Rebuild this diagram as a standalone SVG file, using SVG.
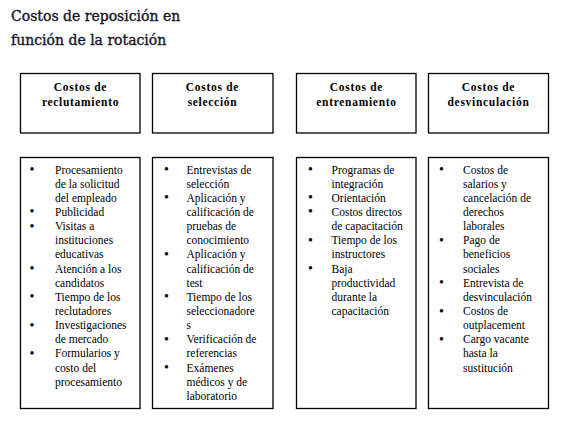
<svg xmlns="http://www.w3.org/2000/svg" width="568" height="425" viewBox="0 0 568 425">
<style>
.bg{fill:#ffffff}
.box{fill:#ffffff;stroke:#000000;stroke-width:1.3}
.title{font-family:"DejaVu Serif","Liberation Serif",serif;font-size:14px;fill:#14142a;stroke:#14142a;stroke-width:0.35}
.head{font-family:"Liberation Serif","Times New Roman",serif;font-size:11.5px;font-weight:bold;letter-spacing:0.7px;fill:#000;text-anchor:middle}
.item{font-family:"Liberation Serif","Times New Roman",serif;font-size:11.5px;fill:#000}
.bul{font-family:"Liberation Serif","Times New Roman",serif;font-size:14px;fill:#000;text-anchor:middle}
</style>
<rect class="bg" x="0" y="0" width="568" height="425"/>
<g id="title">
<text class="title" x="11" y="20.5">Costos de reposición en</text>
<text class="title" x="11" y="44.5">función de la rotación</text>
</g>

<g id="h1">
<rect class="box" x="20.5" y="73.5" width="119.5" height="59.5"/>
<text class="head" x="80.5" y="91">Costos de</text>
<text class="head" x="80.5" y="105.5">reclutamiento</text>
</g>
<g id="h2">
<rect class="box" x="152.5" y="73.5" width="120.5" height="59.5"/>
<text class="head" x="212.5" y="91">Costos de</text>
<text class="head" x="212.5" y="105.5">selección</text>
</g>
<g id="h3">
<rect class="box" x="296.5" y="73.5" width="119.5" height="59.5"/>
<text class="head" x="356.5" y="91">Costos de</text>
<text class="head" x="356.5" y="105.5">entrenamiento</text>
</g>
<g id="h4">
<rect class="box" x="428.5" y="73.5" width="120" height="59.5"/>
<text class="head" x="488.5" y="91">Costos de</text>
<text class="head" x="488.5" y="105.5">desvinculación</text>
</g>

<g id="l1">
<rect class="box" x="20.5" y="157.5" width="119.5" height="251"/>
<text class="bul" x="32" y="174">•</text>
<text class="bul" x="32" y="216.45">•</text>
<text class="bul" x="32" y="230.6">•</text>
<text class="bul" x="32" y="273.05">•</text>
<text class="bul" x="32" y="301.35">•</text>
<text class="bul" x="32" y="329.65">•</text>
<text class="bul" x="32" y="357.95">•</text>
<text class="item" x="55" y="173.5"><tspan x="55">Procesamiento</tspan><tspan x="55" dy="14.15">de la solicitud</tspan><tspan x="55" dy="14.15">del empleado</tspan><tspan x="55" dy="14.15">Publicidad</tspan><tspan x="55" dy="14.15">Visitas a</tspan><tspan x="55" dy="14.15">instituciones</tspan><tspan x="55" dy="14.15">educativas</tspan><tspan x="55" dy="14.15">Atención a los</tspan><tspan x="55" dy="14.15">candidatos</tspan><tspan x="55" dy="14.15">Tiempo de los</tspan><tspan x="55" dy="14.15">reclutadores</tspan><tspan x="55" dy="14.15">Investigaciones</tspan><tspan x="55" dy="14.15">de mercado</tspan><tspan x="55" dy="14.15">Formularios y</tspan><tspan x="55" dy="14.15">costo del</tspan><tspan x="55" dy="14.15">procesamiento</tspan></text>
</g>

<g id="l2">
<rect class="box" x="152.5" y="157.5" width="120.5" height="251"/>
<text class="bul" x="166.5" y="174">•</text>
<text class="bul" x="166.5" y="202.3">•</text>
<text class="bul" x="166.5" y="258.9">•</text>
<text class="bul" x="166.5" y="301.35">•</text>
<text class="bul" x="166.5" y="343.8">•</text>
<text class="bul" x="166.5" y="372.1">•</text>
<text class="item" x="186.5" y="173.5"><tspan x="186.5">Entrevistas de</tspan><tspan x="186.5" dy="14.15">selección</tspan><tspan x="186.5" dy="14.15">Aplicación y</tspan><tspan x="186.5" dy="14.15">calificación de</tspan><tspan x="186.5" dy="14.15">pruebas de</tspan><tspan x="186.5" dy="14.15">conocimiento</tspan><tspan x="186.5" dy="14.15">Aplicación y</tspan><tspan x="186.5" dy="14.15">calificación de</tspan><tspan x="186.5" dy="14.15">test</tspan><tspan x="186.5" dy="14.15">Tiempo de los</tspan><tspan x="186.5" dy="14.15">seleccionadore</tspan><tspan x="186.5" dy="14.15">s</tspan><tspan x="186.5" dy="14.15">Verificación de</tspan><tspan x="186.5" dy="14.15">referencias</tspan><tspan x="186.5" dy="14.15">Exámenes</tspan><tspan x="186.5" dy="14.15">médicos y de</tspan><tspan x="186.5" dy="14.15">laboratorio</tspan></text>
</g>

<g id="l3">
<rect class="box" x="296.5" y="157.5" width="119.5" height="251"/>
<text class="bul" x="310.5" y="174">•</text>
<text class="bul" x="310.5" y="202.3">•</text>
<text class="bul" x="310.5" y="216.45">•</text>
<text class="bul" x="310.5" y="244.75">•</text>
<text class="bul" x="310.5" y="273.05">•</text>
<text class="item" x="331.5" y="173.5"><tspan x="331.5">Programas de</tspan><tspan x="331.5" dy="14.15">integración</tspan><tspan x="331.5" dy="14.15">Orientación</tspan><tspan x="331.5" dy="14.15">Costos directos</tspan><tspan x="331.5" dy="14.15">de capacitación</tspan><tspan x="331.5" dy="14.15">Tiempo de los</tspan><tspan x="331.5" dy="14.15">instructores</tspan><tspan x="331.5" dy="14.15">Baja</tspan><tspan x="331.5" dy="14.15">productividad</tspan><tspan x="331.5" dy="14.15">durante la</tspan><tspan x="331.5" dy="14.15">capacitación</tspan></text>
</g>

<g id="l4">
<rect class="box" x="428.5" y="157.5" width="120" height="251"/>
<text class="bul" x="441.5" y="174">•</text>
<text class="bul" x="441.5" y="244.75">•</text>
<text class="bul" x="441.5" y="287.2">•</text>
<text class="bul" x="441.5" y="315.5">•</text>
<text class="bul" x="441.5" y="343.8">•</text>
<text class="item" x="463" y="173.5"><tspan x="463">Costos de</tspan><tspan x="463" dy="14.15">salarios y</tspan><tspan x="463" dy="14.15">cancelación de</tspan><tspan x="463" dy="14.15">derechos</tspan><tspan x="463" dy="14.15">laborales</tspan><tspan x="463" dy="14.15">Pago de</tspan><tspan x="463" dy="14.15">beneficios</tspan><tspan x="463" dy="14.15">sociales</tspan><tspan x="463" dy="14.15">Entrevista de</tspan><tspan x="463" dy="14.15">desvinculación</tspan><tspan x="463" dy="14.15">Costos de</tspan><tspan x="463" dy="14.15">outplacement</tspan><tspan x="463" dy="14.15">Cargo vacante</tspan><tspan x="463" dy="14.15">hasta la</tspan><tspan x="463" dy="14.15">sustitución</tspan></text>
</g>
</svg>
